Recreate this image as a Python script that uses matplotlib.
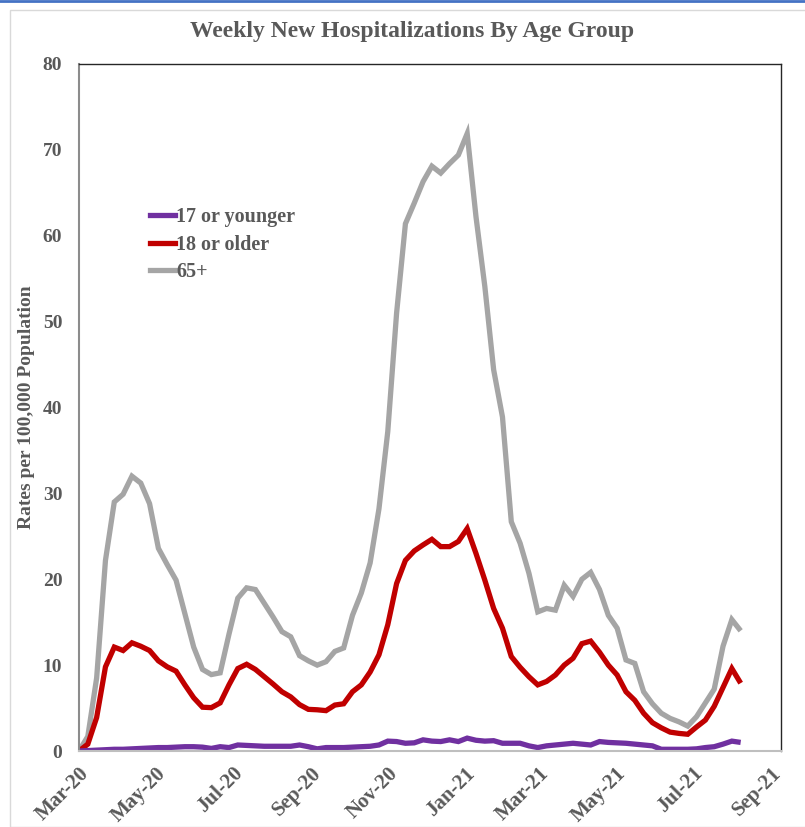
import matplotlib
matplotlib.use("Agg")
import matplotlib.pyplot as plt
import matplotlib.dates as mdates
from matplotlib.lines import Line2D
import pandas as pd

# ---- data ----
start_date = "2020-03-01"
n_weeks = 76
age_17_under = [0.0, 0.05, 0.1, 0.15, 0.2, 0.2, 0.25, 0.3, 0.35, 0.4,
                0.4, 0.45, 0.5, 0.5, 0.45, 0.3, 0.5, 0.4, 0.7, 0.65,
                0.6, 0.55, 0.55, 0.55, 0.55, 0.7, 0.5, 0.25, 0.4, 0.4,
                0.4, 0.45, 0.5, 0.55, 0.7, 1.15, 1.1, 0.9, 0.95, 1.3,
                1.15, 1.1, 1.3, 1.1, 1.5, 1.25, 1.15, 1.2, 0.9, 0.9,
                0.9, 0.6, 0.4, 0.6, 0.7, 0.8, 0.9, 0.8, 0.7, 1.1,
                1.0, 0.95, 0.9, 0.8, 0.7, 0.6, 0.2, 0.2, 0.2, 0.2,
                0.25, 0.4, 0.5, 0.8, 1.15, 1.0]
age_18_over = [0.0, 0.8, 3.9, 9.8, 12.1, 11.7, 12.6, 12.2, 11.7, 10.5,
               9.8, 9.3, 7.7, 6.2, 5.1, 5.05, 5.6, 7.7, 9.6, 10.1,
               9.5, 8.65, 7.8, 6.9, 6.3, 5.4, 4.85, 4.8, 4.7, 5.35,
               5.5, 6.9, 7.7, 9.2, 11.2, 14.7, 19.5, 22.2, 23.3, 24.0,
               24.65, 23.8, 23.8, 24.4, 25.9, 23.0, 19.9, 16.6, 14.3, 11.0,
               9.75, 8.65, 7.7, 8.1, 8.85, 10.0, 10.8, 12.5, 12.8, 11.5,
               10.0, 8.85, 6.9, 5.9, 4.4, 3.3, 2.7, 2.2, 2.05, 1.95,
               2.8, 3.6, 5.2, 7.4, 9.6, 7.9]
age_65_plus = [0.0, 1.7, 8.5, 22.2, 29.0, 29.9, 32.0, 31.2, 28.8, 23.6,
               21.7, 19.9, 16.0, 12.1, 9.5, 8.9, 9.1, 13.6, 17.8, 19.0,
               18.8, 17.2, 15.6, 13.9, 13.3, 11.1, 10.5, 10.0, 10.4, 11.6,
               12.0, 15.8, 18.4, 21.9, 28.2, 37.2, 51.0, 61.4, 63.8, 66.3,
               68.1, 67.3, 68.4, 69.4, 71.9, 62.2, 54.1, 44.4, 38.9, 26.7,
               24.2, 20.7, 16.2, 16.6, 16.4, 19.3, 18.0, 20.0, 20.8, 18.8,
               15.8, 14.3, 10.6, 10.2, 6.9, 5.5, 4.4, 3.8, 3.4, 2.9,
               4.0, 5.6, 7.2, 12.2, 15.3, 14.0]
series_labels = ["17 or younger", "18 or older", "65+"]
series_colors = ["#7030A0", "#C00000", "#A5A5A5"]
y_ticks = [0, 10, 20, 30, 40, 50, 60, 70, 80]
x_tick_dates = ["2020-03-01", "2020-05-01", "2020-07-01", "2020-09-01", "2020-11-01",
                "2021-01-01", "2021-03-01", "2021-05-01", "2021-07-01", "2021-09-01"]

dates = pd.date_range(start_date, periods=n_weeks, freq="7D")

TXT = "#595959"
SERIF = "Liberation Serif"

fig = plt.figure(figsize=(8.05, 8.27), dpi=100)
ax = fig.add_axes([79/805, 1-751/827, (781-79)/805, (751-64)/827])

# draw order: gray at back, then red, then purple on top
for vals, lab, col in [(age_65_plus, series_labels[2], series_colors[2]),
                       (age_18_over, series_labels[1], series_colors[1]),
                       (age_17_under, series_labels[0], series_colors[0])]:
    ax.plot(dates, vals, color=col, lw=3.8, solid_joinstyle="miter",
            solid_capstyle="butt", label=lab)

ax.set_ylim(0, 80)
ax.set_yticks(y_ticks)
ax.set_xlim(pd.Timestamp("2020-03-01"), pd.Timestamp("2021-09-09"))
ax.set_xticks([pd.Timestamp(d) for d in x_tick_dates])
ax.xaxis.set_major_formatter(mdates.DateFormatter("%b-%y"))

ax.tick_params(axis="both", length=0, colors=TXT)
ax.tick_params(axis="y", pad=12)
ax.tick_params(axis="x", pad=9)
for lbl in ax.get_yticklabels():
    lbl.set_fontfamily(SERIF); lbl.set_fontweight("bold"); lbl.set_fontsize(14); lbl.set_color(TXT)
for lbl in ax.get_xticklabels():
    lbl.set_fontfamily(SERIF); lbl.set_fontweight("bold"); lbl.set_fontsize(15); lbl.set_color(TXT)
    lbl.set_rotation(45); lbl.set_ha("right"); lbl.set_rotation_mode("anchor")

for side in ["top", "right"]:
    ax.spines[side].set_color("#262626"); ax.spines[side].set_linewidth(1.0)
ax.spines["left"].set_color("#8C8C8C"); ax.spines["left"].set_linewidth(1.5)
ax.spines["bottom"].set_color("#BFBFBF"); ax.spines["bottom"].set_linewidth(1.5)

ax.set_ylabel("Rates per 100,000 Population", fontfamily=SERIF, fontweight="bold",
              fontsize=14, color=TXT)
ax.yaxis.set_label_coords(-0.063, 0.5)

fig.text(412/805, 1-32/827, "Weekly New Hospitalizations By Age Group", fontfamily=SERIF,
         fontweight="bold", fontsize=17, color=TXT, ha="center", va="center")

handles = [Line2D([], [], color=c, lw=3.8) for c in series_colors]
leg = ax.legend(handles, series_labels, loc="upper left", bbox_to_anchor=(0.076, 0.818),
                frameon=False, handlelength=1.2, handletextpad=0.08, labelspacing=0.38,
                prop={"family": SERIF, "weight": "bold", "size": 14.5})
for t in leg.get_texts():
    t.set_color(TXT)

# outer chart frame
fig.add_artist(plt.Rectangle((10/805, 0.0), 1.0, 1-10/827, transform=fig.transFigure,
                             fill=False, edgecolor="#D9D9D9", lw=1))
fig.add_artist(Line2D([0, 1], [1-1/827, 1-1/827], transform=fig.transFigure,
                      color="#4472C4", lw=2))

fig.savefig("out.png", dpi=100)
